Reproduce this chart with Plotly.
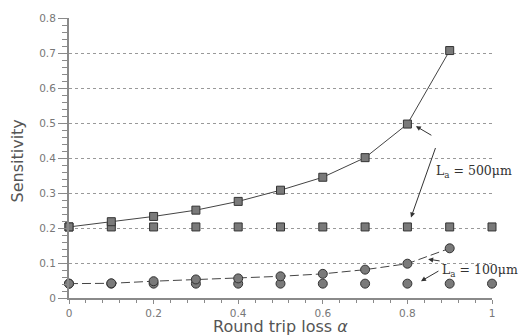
import plotly.graph_objects as go

alpha = [0, 0.1, 0.2, 0.3, 0.4, 0.5, 0.6, 0.7, 0.8, 0.9]
alpha_flat = [0, 0.1, 0.2, 0.3, 0.4, 0.5, 0.6, 0.7, 0.8, 0.9, 1.0]
sens_500 = [0.203, 0.218, 0.233, 0.251, 0.276, 0.308, 0.345, 0.401, 0.497, 0.707]
sens_500_flat = [0.203, 0.203, 0.203, 0.203, 0.203, 0.203, 0.203, 0.203, 0.203, 0.203, 0.203]
sens_100 = [0.041, 0.042, 0.048, 0.053, 0.056, 0.062, 0.069, 0.081, 0.098, 0.142]
sens_100_flat = [0.041, 0.041, 0.041, 0.041, 0.041, 0.041, 0.041, 0.041, 0.041, 0.041, 0.041]
xticks = [0, 0.2, 0.4, 0.6, 0.8, 1]
xticklabels = ["0", "0.2", "0.4", "0.6", "0.8", "1"]
yticks = [0, 0.1, 0.2, 0.3, 0.4, 0.5, 0.6, 0.7, 0.8]
yticklabels = ["0", "0.1", "0.2", "0.3", "0.4", "0.5", "0.6", "0.7", "0.8"]

mfill = "#7a7a7a"
mline = dict(color="#333333", width=1)

fig = go.Figure()
fig.add_trace(go.Scatter(x=alpha_flat, y=sens_500_flat, mode="markers",
                         marker=dict(symbol="square", size=8, color=mfill, line=mline),
                         cliponaxis=False, showlegend=False))
fig.add_trace(go.Scatter(x=alpha, y=sens_500, mode="lines+markers",
                         line=dict(color="#444444", width=1),
                         marker=dict(symbol="square", size=8, color=mfill, line=mline),
                         cliponaxis=False, showlegend=False))
fig.add_trace(go.Scatter(x=alpha_flat, y=sens_100_flat, mode="markers",
                         marker=dict(symbol="circle", size=9, color=mfill, line=mline),
                         cliponaxis=False, showlegend=False))
fig.add_trace(go.Scatter(x=alpha, y=sens_100, mode="lines+markers",
                         line=dict(color="#444444", width=1, dash="9px,4px"),
                         marker=dict(symbol="circle", size=9, color=mfill, line=mline),
                         cliponaxis=False, showlegend=False))

tickfont = dict(family="DejaVu Sans, sans-serif", size=10.5, color="#777777")
fig.update_xaxes(range=[0, 1], tickvals=xticks, ticktext=xticklabels,
                 showgrid=False, zeroline=False, showline=True, linecolor="#8a8a8a", linewidth=2,
                 ticks="outside", ticklen=4, tickcolor="#8a8a8a", tickwidth=1,
                 minor=dict(dtick=0.04, tick0=0, ticks="outside", ticklen=3, tickcolor="#8a8a8a", showgrid=False),
                 tickfont=tickfont)
fig.update_yaxes(range=[0, 0.8], tickvals=yticks, ticktext=yticklabels,
                 showgrid=True, gridcolor="#999999", griddash="dot", gridwidth=1,
                 zeroline=False, showline=True, linecolor="#8a8a8a", linewidth=2,
                 ticks="outside", ticklen=9, tickcolor="#8a8a8a", tickwidth=1,
                 minor=dict(dtick=0.02, tick0=0, ticks="outside", ticklen=5, tickcolor="#8a8a8a", showgrid=False),
                 tickfont=tickfont)

serif = dict(family="DejaVu Serif, serif", size=12.5, color="#333333")

annots = [
    dict(x=-0.122, y=0.489, xref="paper", yref="paper", xanchor="center", yanchor="middle",
         text="Sensitivity", textangle=-90, showarrow=False,
         font=dict(family="DejaVu Sans, sans-serif", size=16, color="#555555")),
    dict(x=0.5, y=-0.101, xref="paper", yref="paper", xanchor="center", yanchor="middle",
         text="Round trip loss <i>α</i>", showarrow=False,
         font=dict(family="DejaVu Sans, sans-serif", size=16, color="#555555")),
    dict(x=0.862, y=0.451, xref="paper", yref="paper", xanchor="left", yanchor="middle",
         text="L<sub>a</sub> = 500μm", showarrow=False, font=serif),
    dict(x=0.877, y=0.0965, xref="paper", yref="paper", xanchor="left", yanchor="middle",
         text="L<sub>a</sub> = 100μm", showarrow=False, font=serif),
]
arrows = [
    (0.820, 0.491, 17, 10),
    (0.8085, 0.230, 25, -71),
    (0.849, 0.111, 13, 2),
    (0.832, 0.048, 19, -11),
]
for (ax_, ay_, dx, dy) in arrows:
    annots.append(dict(x=ax_, y=ay_, xref="x", yref="y", text="", showarrow=True,
                       ax=dx, ay=dy, arrowhead=2, arrowsize=1, arrowwidth=1,
                       arrowcolor="#333333", standoff=0, startstandoff=0))

fig.update_layout(width=520, height=336, autosize=False,
                  margin=dict(l=69, r=28, t=16, b=38),
                  plot_bgcolor="white", paper_bgcolor="white",
                  annotations=annots)
fig.write_html("out.html", config={"displayModeBar": False},
               post_script="document.body.style.margin='0';document.body.style.overflow='hidden';")
